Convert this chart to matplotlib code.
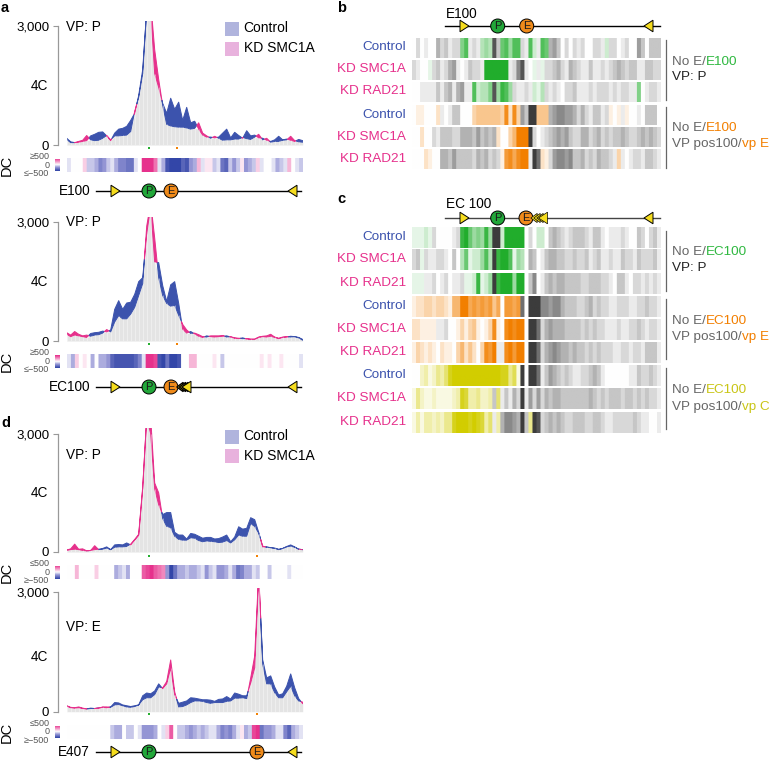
import numpy as np
import matplotlib
matplotlib.use('Agg')
import matplotlib.pyplot as plt
from matplotlib.colors import LinearSegmentedColormap
from matplotlib.patches import Circle, Polygon, Rectangle

plt.rcParams['font.family'] = ['Liberation Sans', 'DejaVu Sans']
plt.rcParams['font.size'] = 9.5

W, H = 769, 760

# 4C profiles, one value per bin
a1_control = [170, 80, 60, 70, 90, 110, 230, 270, 320, 330, 230, 110, 300, 400, 420, 470, 620, 800, 1250, 1900, 3400, 3400, 1800, 1450, 1050, 800, 1180, 900, 1080, 620, 950, 560, 600, 400, 250, 200, 200, 180, 200, 300, 400, 180, 320, 240, 170, 360, 230, 250, 180, 170, 120, 90, 130, 220, 130, 150, 120, 90, 140, 110]
a1_kd = [140, 60, 60, 90, 120, 240, 130, 110, 120, 170, 240, 130, 230, 230, 240, 250, 340, 850, 1200, 1800, 3400, 3600, 2400, 1650, 1000, 520, 480, 460, 450, 450, 430, 400, 420, 560, 300, 230, 170, 220, 170, 120, 130, 130, 150, 150, 190, 160, 140, 200, 270, 130, 170, 70, 90, 90, 120, 130, 220, 110, 80, 70]
a2_control = [170, 110, 150, 130, 110, 90, 190, 210, 220, 250, 230, 280, 800, 1020, 800, 960, 980, 1180, 1500, 1600, 2700, 3400, 2000, 1980, 1400, 1000, 1420, 1500, 950, 300, 200, 240, 180, 120, 90, 130, 110, 100, 110, 120, 130, 100, 70, 60, 80, 50, 40, 40, 90, 110, 100, 120, 90, 60, 90, 100, 120, 110, 90, 40]
a2_kd = [210, 150, 240, 170, 130, 150, 120, 150, 160, 200, 290, 230, 480, 640, 560, 560, 680, 850, 1150, 1450, 2900, 3500, 2600, 1600, 1150, 950, 880, 900, 650, 420, 280, 190, 200, 160, 110, 100, 130, 130, 130, 140, 100, 110, 80, 70, 60, 60, 50, 50, 100, 120, 130, 170, 100, 70, 100, 110, 100, 110, 80, 20]
d1_control = [40, 60, 70, 60, 40, 30, 40, 60, 70, 90, 130, 60, 180, 190, 180, 230, 180, 300, 420, 1600, 3400, 3000, 1600, 1200, 950, 1000, 1000, 500, 430, 430, 330, 470, 450, 400, 350, 370, 370, 330, 340, 380, 430, 260, 380, 640, 580, 600, 870, 820, 500, 130, 130, 110, 100, 70, 90, 140, 180, 130, 70, 60]
d1_kd = [50, 80, 200, 70, 80, 30, 40, 160, 60, 70, 100, 60, 120, 130, 130, 140, 200, 320, 450, 1650, 3400, 3400, 1750, 1500, 850, 650, 620, 400, 320, 300, 300, 360, 350, 290, 260, 280, 270, 260, 240, 250, 290, 230, 310, 430, 400, 400, 720, 650, 480, 150, 120, 110, 90, 60, 90, 130, 150, 120, 70, 60]
d2_control = [140, 100, 90, 100, 80, 70, 90, 80, 90, 110, 100, 120, 230, 220, 170, 150, 130, 150, 170, 400, 470, 450, 520, 700, 580, 700, 1100, 430, 210, 240, 270, 350, 340, 320, 300, 300, 290, 260, 310, 320, 380, 320, 470, 440, 400, 400, 720, 1100, 3400, 1300, 850, 900, 620, 420, 450, 640, 950, 600, 330, 200]
d2_kd = [150, 110, 100, 120, 90, 70, 80, 80, 90, 120, 120, 110, 170, 180, 150, 120, 110, 130, 170, 300, 350, 350, 430, 620, 600, 760, 1300, 500, 120, 130, 170, 230, 270, 270, 260, 230, 210, 230, 230, 230, 260, 270, 340, 340, 350, 330, 850, 1400, 3500, 1200, 700, 700, 480, 350, 350, 500, 640, 400, 270, 240]

# differential contact strips, -9 .. 9 stands for -500 .. 500
a1_dc = [-1, 0, 0, 0, 2, -2, -2, -3, -5, -4, -2, -1, -3, -5, -5, -6, -6, -1, 0, 9, 9, 9, 6, -1, -3, -8, -9, -9, -9, -7, -8, -4, -3, 3, -1, 1, 1, -2, -1, -6, -7, -2, -4, -2, 1, -4, -3, -2, 2, -1, 0, 0, -1, -3, -2, -1, 3, 0, -1, -2]
a2_dc = [-1, -3, 2, 0, 1, 0, -3, 0, -3, -3, -4, -7, -8, -8, -8, -8, -8, -7, -5, -1, 9, 9, 8, -8, -9, -6, -9, -9, -8, 0, 0, 3, 3, 0, 0, 0, 0, 1, 0, -2, 0, 0, 0, 0, 0, 0, 0, 0, 0, 1, 0, 1, 0, 0, 1, 0, 0, 0, 0, -1]
d1_dc = [0, 0, 3, 0, 0, 0, 0, 2, 0, 0, 0, 0, -3, -2, -1, -3, 0, 0, 0, 7, 8, 9, 7, 6, 5, -4, -9, -6, -3, -3, -2, -3, -3, -2, -1, -4, -2, -1, -4, -4, -3, -1, -3, -6, -5, -3, -3, -1, -2, 0, 0, -2, 0, 0, 0, 0, -1, 0, 0, 0]
d2_dc = [0, 0, 0, 0, 0, 0, 0, 0, 0, 0, 0, -2, -3, -3, 0, -2, -2, 0, -1, -4, -4, -4, -3, 0, -1, 2, 7, 0, -2, -2, -3, -4, -3, -2, -3, -2, -1, -1, -3, -5, -4, -5, -3, -1, 1, -3, -2, 8, 9, -6, -4, -4, -3, -1, -1, -5, -7, -3, -2, -1]

# heat map rows: positive is the colour of the panel, negative is gray
b_rows = [
    [0, -2, 0, -1, 0, 0, -4, -2, -3, -1, -2, -2, 5, 7, -1, -2, -1, 3, 4, 3, -8, -3, 6, 7, 4, 7, 7, -2, -1, 7, 2, -1, 7, 6, -4, -5, -3, 0, -2, 0, -2, -1, -2, 0, 0, -2, -2, -1, 2, -2, -2, 0, -1, -2, 0, 0, -5, -3, 0, -3, -3, -3],
    [-2, -1, 0, 0, 1, -2, -3, -1, -2, -4, -5, -1, 0, -1, -3, -2, -2, -1, 9, 9, 9, 9, 9, 9, -1, -2, -6, -8, -1, 0, 1, -1, 1, -2, -2, -3, -4, -2, -1, -4, -3, -2, -1, -1, -3, -1, -1, -2, -1, -2, -3, -4, -3, -2, -3, -3, -1, -1, -3, -3, -2, -2],
    [0, 0, -1, -1, -1, -1, -3, -1, -3, -4, -1, -4, -5, -1, -1, 7, 2, 3, 3, 5, -8, 4, 8, 7, 4, -2, -1, -1, -2, -1, 2, 1, 3, -2, -1, -2, -1, 0, -2, -2, -3, -1, -1, -1, -2, -1, -2, -2, -2, -1, -2, -1, -2, -2, -1, -1, 5, 0, -1, -2, -2, -1],
    [0, 1, 1, 0, 0, 0, 2, -1, 0, -1, -3, -3, 0, 0, 0, 3, 4, 4, 4, 4, 4, 4, 3, 8, 2, 8, 3, -5, -3, -9, -9, 4, 4, 4, -4, -5, -6, -6, -5, -5, -4, -2, -4, -2, -1, -3, -3, -1, -2, 1, 0, 1, -1, 1, 0, 0, -1, 0, -3, -3, -3, 0],
    [0, 0, 2, 0, 0, -2, -1, -3, -3, -3, -2, -2, -4, -4, -4, -3, -5, -3, -4, -3, -4, 2, 0, 0, 3, 5, 9, 9, 9, -9, -2, 0, -1, -2, -3, -4, -5, -4, -5, -3, -2, -2, -4, -4, -2, -3, -4, -2, -3, -2, -3, -3, -4, -3, -2, -2, -3, -4, -3, -4, -3, -2],
    [0, 0, 0, 2, 1, 0, 0, -4, -4, -3, -5, -3, -3, -3, -3, -2, -4, -3, -4, -2, -3, -2, 1, 7, 8, 6, 8, 9, 9, -1, -9, -7, 2, 1, -2, -5, -6, -6, -5, -6, -3, -3, -4, -2, -3, -2, -4, -3, -3, -2, -1, 3, -1, 0, -1, -2, -2, -1, -3, -3, -2, -1],
]
c_rows = [
    [1, 1, 1, 2, 1, -2, 0, 0, 0, 0, -1, -2, 8, 9, 6, 4, 5, 4, 8, 4, -9, -9, 2, 9, 9, 9, 9, 9, 0, -2, 0, 2, 2, 0, -3, -4, -3, -2, -1, -2, -3, -3, -3, -2, -1, -3, -3, -1, 0, -1, -1, -1, -2, -1, 0, 0, -3, -2, 0, -2, -3, -1],
    [-2, -3, 1, -2, -1, -1, -2, -2, -1, 0, -3, 0, 3, 6, 1, 2, 2, 4, 7, 3, -9, 8, 9, 9, 7, 1, 4, 3, 0, -4, -3, 0, -1, -3, -4, -4, -3, -3, -2, -2, -3, -2, -2, -3, -1, -2, -3, -1, -1, -2, -1, -1, -3, -2, -2, -1, -3, -2, -2, -2, -3, -1],
    [1, 1, 1, -1, -1, -2, 0, -1, -2, 0, -1, -1, -2, 1, 1, 2, 8, 1, 2, 4, -9, 8, 9, 9, 9, 4, 9, 9, 0, -3, -6, 0, -1, -3, -4, -3, -4, -4, -3, -3, -3, -3, -2, -2, -3, -3, -3, -2, -2, -1, 0, -3, -3, -1, 0, -2, -2, -1, -2, -1, -2, -1],
    [1, 2, 2, 3, 3, 2, 3, 3, 2, 1, 5, 5, 9, 9, 6, 7, 6, 7, 6, 7, 4, 6, 0, 7, 7, 6, 7, -7, 0, -9, -9, -9, -6, -6, -5, -6, -6, -4, -3, -3, -3, -2, -2, -3, -4, -2, -3, -2, -2, -1, -1, -2, -2, -2, -1, -1, -2, -2, -3, -2, -2, -1],
    [2, 2, 1, 1, 1, 1, -1, -1, -2, 0, 0, 1, 3, 1, 3, 4, 1, 0, 1, 3, 8, 1, 0, 8, 9, 8, 9, 9, 0, -9, -9, -7, -2, -4, -5, -4, -4, -4, -3, -3, -3, -3, -2, -3, -2, -3, -2, -2, -1, -1, -1, -2, -1, -1, -2, -2, -3, -2, -1, -2, -2, -1],
    [1, 3, 2, 1, 2, 1, 0, 2, 1, 1, 0, 3, 5, 2, 4, 2, 0, 3, 8, 7, 9, -1, -1, 8, 9, 7, 9, 9, 0, -9, -9, -7, -2, -4, -5, -6, -5, -4, -4, -3, -4, -3, -3, -2, -3, -2, -3, -2, -2, -2, -1, -1, -2, -2, -1, -2, -2, -1, -3, -3, -3, -1],
    [0, 0, 2, 3, 1, 2, 4, 3, 5, 8, 9, 9, 9, 9, 9, 9, 9, 9, 9, 9, 9, 9, 8, 8, 4, 6, 1, -9, 0, -9, -9, -7, -1, -3, -5, -4, -3, -2, -3, -2, -1, -1, -2, -2, -3, -4, -3, -1, 0, 0, 0, 0, 0, 0, -1, -1, -3, -2, -2, -3, -2, -1],
    [1, 4, 2, 1, 1, 2, 1, 1, 1, 1, 2, 3, 8, 7, 3, 3, 4, 2, 2, 3, -3, 5, -1, -3, -1, -4, -2, -9, -1, -5, -2, -5, -2, -4, -3, -4, -4, -3, -3, -3, -3, -3, -3, -3, -4, -3, -2, -3, -2, -3, -3, -3, -2, -3, -3, -2, -3, -2, -3, -2, -2, -1],
    [1, 3, 1, 3, 3, 2, 3, 2, 4, 4, 8, 9, 9, 9, 8, 9, 8, 7, 3, 5, -1, 3, -4, -6, -6, -5, -4, -9, -3, 4, -9, -8, -2, -3, -4, -3, -4, -3, -2, -2, -3, -3, -3, -2, -2, -3, -3, -2, -1, -1, -2, -2, -2, -2, -2, -3, -2, -1, -1, 0, 0, -1],
]
row_names = ['Control', 'KD SMC1A', 'KD RAD21']

BLUE = '#3c53ad'
PINK = '#e6318c'
GREEN = '#21ad2c'
ORANGE = '#f27f00'
YELLOW = '#d2cd00'
GRAY_TXT = '#666666'

fig = plt.figure(figsize=(W / 100, H / 100), dpi=100, facecolor='white')


def px_axes(x0, y0, x1, y1, **kw):
    return fig.add_axes([x0 / W, 1 - y1 / H, (x1 - x0) / W, (y1 - y0) / H], **kw)


ov = px_axes(0, 0, W, H, zorder=5)
ov.set_xlim(0, W)
ov.set_ylim(H, 0)
ov.axis('off')
ov.patch.set_alpha(0)

dc_cmap = LinearSegmentedColormap.from_list(
    'dc', [(0, '#3346a8'), (0.3, '#9c9cd8'), (0.5, '#ffffff'), (0.7, '#f5a8cf'), (1, PINK)])


def profile(control, kd, y0, y3000, ytop):
    ax = px_axes(66.7, ytop, 302.7, y0)
    control = np.array(control, dtype=float)
    kd = np.array(kd, dtype=float)
    x = np.arange(len(control))
    low = np.minimum(control, kd)
    ax.fill_between(x, 0, low, color='#e4e4e4', lw=0)
    ax.vlines(x, 0, low, color='white', lw=0.4, alpha=0.7)
    ax.fill_between(x, kd, control, where=control >= kd, interpolate=True, color=BLUE, lw=0.7)
    ax.fill_between(x, control, kd, where=kd >= control, interpolate=True, color=PINK, lw=0.7)
    ax.set_xlim(0, len(control) - 1)
    ax.set_ylim(0, 3000 * (y0 - ytop) / (y0 - y3000))
    ax.set_xticks([])
    ax.set_yticks([0, 3000])
    ax.set_yticklabels(['0', '3,000'], fontsize=10.5)
    ax.tick_params(axis='y', length=3.6, width=0.8, color='#999999', pad=2.8)
    for s in ['top', 'right', 'bottom']:
        ax.spines[s].set_visible(False)
    ax.spines['left'].set_position(('outward', 6.2))
    ax.spines['left'].set_bounds(0, 3000)
    ax.spines['left'].set_color('#999999')
    ax.spines['left'].set_linewidth(0.9)
    ax.patch.set_alpha(0)
    return ax


def strip(values, y0, y1, top_label, bottom_label):
    ax = px_axes(66.7, y0, 302.7, y1)
    ax.imshow(np.repeat([values], 4, axis=1), cmap=dc_cmap, vmin=-9, vmax=9, aspect='auto', interpolation='bilinear')
    ax.axis('off')
    bar = px_axes(55.5, y0 + 0.5, 60, y1 - 0.5)
    bar.imshow(np.linspace(9, -9, 20).reshape(-1, 1), cmap=dc_cmap, vmin=-9, vmax=9, aspect='auto')
    bar.axis('off')
    mid = (y0 + y1) / 2
    ov.text(49.5, y0 - 1.5, top_label, fontsize=6.5, color='#555555', ha='right', va='center')
    ov.text(49.5, mid, '0', fontsize=6.5, color='#555555', ha='right', va='center')
    ov.text(49.5, y1 + 1.5, bottom_label, fontsize=6.5, color='#555555', ha='right', va='center')
    ov.text(6.5, mid, 'DC', fontsize=10.5, rotation=90, ha='center', va='center')


def triangle(x, y, direction, w=4.5, h=5.8, lw=0.7, zorder=6):
    pts = [(x - direction * w, y - h), (x - direction * w, y + h), (x + direction * w, y)]
    ov.add_patch(Polygon(pts, closed=True, fc='#f5dc1e', ec='black', lw=lw, zorder=zorder))


def track(y, x0, x1, tri_r, tri_l, px, ex, color='black', r=7):
    ov.plot([x0, x1], [y, y], color=color, lw=1.0, zorder=4)
    triangle(tri_r, y, 1)
    triangle(tri_l, y, -1)
    ov.add_patch(Circle((px, y), r, fc='#22a73a', ec='black', lw=0.7, zorder=6))
    ov.add_patch(Circle((ex, y), r, fc='#ef8a1a', ec='black', lw=0.7, zorder=6))
    ov.text(px, y + 0.3, 'P', fontsize=8, ha='center', va='center', zorder=7, color='#1a1a1a')
    ov.text(ex, y + 0.3, 'E', fontsize=8, ha='center', va='center', zorder=7, color='#1a1a1a')


def legend(y1, y2):
    ov.add_patch(Rectangle((225, y1), 13.5, 13.5, fc='#b0b4dd', ec='none'))
    ov.add_patch(Rectangle((225, y2), 13.5, 13.5, fc='#e8b2dd', ec='none'))
    ov.text(243.5, y1 + 6.5, 'Control', fontsize=10, va='center')
    ov.text(243.5, y2 + 6.5, 'KD SMC1A', fontsize=10, va='center')


def ticks_under(y, xs):
    for xv, c in xs:
        ov.plot([xv, xv], [y - 1, y + 1], color=c, lw=1.4, solid_capstyle='butt')


def heat_rows(rows, colors, tops, height):
    for i, row in enumerate(rows):
        cmap = LinearSegmentedColormap.from_list(
            'h', [(0, '#3c3c3c'), (1 / 6, '#8a8a8a'), (1 / 3, '#c6c6c6'), (4 / 9, '#ececec'), (0.5, '#ffffff'), (1, colors[i // 3])])
        ax = px_axes(412, tops[i], 660, tops[i] + height)
        ax.imshow(np.repeat([row], 4, axis=1), cmap=cmap, vmin=-9, vmax=9, aspect='auto', interpolation='bilinear')
        ax.axis('off')
        ov.text(406, tops[i] + height / 2 - 0.5, row_names[i % 3], fontsize=9.7, ha='right', va='center',
                color=BLUE if i % 3 == 0 else PINK)


def color_text(x, y, parts):
    rend = fig.canvas.get_renderer()
    for s, c in parts:
        t = ov.text(x, y, s, color=c, fontsize=9.7, va='center')
        x += t.get_window_extent(rend).width


# panel a
profile(a1_control, a1_kd, 145, 26, 21)
strip(a1_dc, 158, 172, '\u2265500', '\u2264\u2212500')
profile(a2_control, a2_kd, 341, 222.3, 217)
strip(a2_dc, 354.3, 368.3, '\u2265500', '\u2264\u2212500')
# panel d
profile(d1_control, d1_kd, 552, 433.7, 428)
strip(d1_dc, 565, 579.3, '\u2264500', '\u2265\u2212500')
profile(d2_control, d2_kd, 711.7, 592.3, 588)
strip(d2_dc, 725, 739, '\u2264500', '\u2265\u2212500')

for xt, yt, s in [(66, 27, 'VP: P'), (66, 222, 'VP: P'), (66, 455, 'VP: P'), (66, 627, 'VP: E')]:
    ov.text(xt, yt, s, fontsize=9.8, va='center')
for yt in [86, 282, 493, 657]:
    ov.text(48.5, yt, '4C', fontsize=9.8, ha='right', va='center')

legend(22, 42)
legend(430, 449)
ticks_under(148, [(149, GREEN), (177, ORANGE)])
ticks_under(343.5, [(149, GREEN), (177, ORANGE)])
ticks_under(556, [(149, GREEN), (257, ORANGE)])
ticks_under(714, [(149, GREEN), (257, ORANGE)])

track(191, 96, 301, 115.5, 292.5, 149, 171)
ov.text(90, 191, 'E100', fontsize=9.8, ha='right', va='center')
track(387, 96, 301, 115.5, 292.5, 149, 171)
for xc in [180, 182.5, 185]:
    triangle(xc, 387, -1, w=3.2, h=4.6, lw=1.0)
triangle(186.5, 387, -1)
ov.text(90, 387, 'EC100', fontsize=9.8, ha='right', va='center')
track(752, 96, 301, 115.5, 292.5, 149, 257)
ov.text(90, 752, 'E407', fontsize=9.8, ha='right', va='center')

# panels b and c
track(26, 445, 660, 464.5, 648.5, 497.7, 526.7)
ov.text(445.5, 14, 'E100', fontsize=9.8, va='center')
track(218, 445, 660, 464.5, 648.5, 497.7, 526, color='#444444')
for xc in [534, 537, 540]:
    triangle(xc, 218, -1, w=3.2, h=4.6, lw=0.5)
triangle(543, 218, -1, lw=0.5)
ov.text(445.5, 204, 'EC 100', fontsize=9.8, va='center')

heat_rows(b_rows, [GREEN, ORANGE], [38, 60, 82, 105, 127, 149], 20)
heat_rows(c_rows, [GREEN, ORANGE, YELLOW], [226.7, 249, 272.7, 296, 319, 342, 365, 388, 412], 21)

for y0, y1 in [(40, 100), (107, 168), (231, 291), (299, 359), (368, 429)]:
    ov.plot([665.7, 665.7], [y0, y1], color='#666666', lw=0.9)

color_text(672, 62, [('No E/', GRAY_TXT), ('E100', '#2fb840')])
color_text(672, 77, [('VP: P', '#222222')])
color_text(672, 128, [('No E/', GRAY_TXT), ('E100', ORANGE)])
color_text(672, 144, [('VP pos100/', GRAY_TXT), ('vp E', ORANGE)])
color_text(672, 252, [('No E/', GRAY_TXT), ('EC100', '#2fb840')])
color_text(672, 268, [('VP: P', '#222222')])
color_text(672, 321, [('No E/', GRAY_TXT), ('EC100', ORANGE)])
color_text(672, 337, [('VP pos100/', GRAY_TXT), ('vp E', ORANGE)])
color_text(672, 390, [('No E/', GRAY_TXT), ('EC100', '#c9c516')])
color_text(672, 407, [('VP pos100/', GRAY_TXT), ('vp C', '#c9c516')])

for xt, yt, s in [(1, 8, 'a'), (337, 8, 'b'), (337, 199, 'c'), (1, 423, 'd')]:
    ov.text(xt, yt, s, fontsize=10.5, fontweight='bold', va='center')

fig.savefig('out.png', dpi=100, facecolor='white')
